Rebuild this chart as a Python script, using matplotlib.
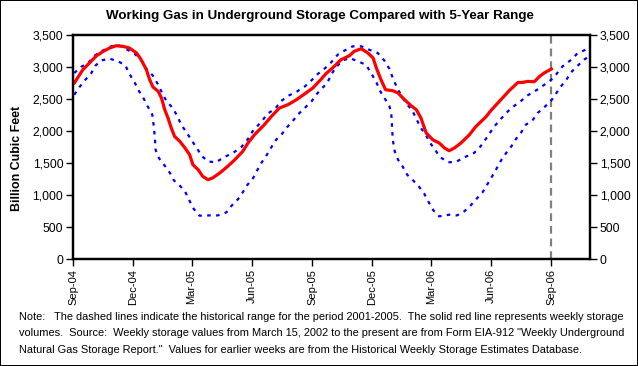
import matplotlib
matplotlib.use("Agg")
import matplotlib.pyplot as plt
from matplotlib.ticker import FuncFormatter
import pandas as pd

plt.rcParams['font.family'] = ['Liberation Sans', 'DejaVu Sans']

# ---------------- data (days after 2004-09-01, Bcf) ----------------
start_date = "2004-09-01"

red_days = [2, 15, 25, 36, 46, 56, 66, 76, 86, 97, 104, 112, 117, 122, 130, 135, 140, 145, 150, 155,
            163, 171, 178, 183, 191, 198, 206, 213, 224, 236, 247, 259, 267, 277, 292, 302, 315, 328,
            341, 354, 366, 379, 386, 396, 409, 422, 429, 440, 450, 458, 463, 470, 477, 488, 496, 506,
            516, 524, 531, 539, 549, 559, 567, 574, 582, 592, 605, 615, 630, 638, 653, 666, 679, 686,
            694, 704, 712, 719, 730]
red_vals = [2750, 2958, 3062, 3177, 3244, 3297, 3333, 3323, 3297, 3219, 3114, 2958, 2802, 2688, 2619,
            2516, 2333, 2203, 2047, 1916, 1838, 1734, 1630, 1473, 1395, 1291, 1239, 1266, 1344, 1447,
            1552, 1681, 1812, 1942, 2098, 2219, 2359, 2411, 2489, 2583, 2672, 2813, 2895, 2984, 3114,
            3177, 3244, 3286, 3219, 3141, 2984, 2802, 2645, 2630, 2594, 2489, 2395, 2333, 2203, 1969,
            1864, 1812, 1734, 1692, 1734, 1812, 1942, 2072, 2219, 2322, 2489, 2634, 2759, 2759, 2775,
            2770, 2853, 2906, 2969]

up_days = [2, 12, 23, 33, 43, 58, 71, 81, 94, 104, 112, 122, 130, 136, 142, 152, 159, 165, 173, 181,
           189, 196, 206, 218, 231, 244, 257, 267, 274, 281, 290, 297, 309, 317, 329, 342, 354, 365,
           374, 385, 394, 404, 414, 427, 440, 452, 465, 475, 483, 488, 494, 501, 509, 518, 524, 531,
           539, 545, 552, 559, 572, 585, 597, 612, 622, 630, 643, 661, 671, 683, 693, 706, 718, 730,
           737, 747, 759, 769, 782, 790]
up_vals = [2906, 3000, 3062, 3177, 3244, 3323, 3333, 3281, 3208, 3103, 2969, 2864, 2723, 2594, 2478,
           2359, 2239, 2098, 1984, 1853, 1734, 1614, 1525, 1510, 1594, 1656, 1750, 1875, 1994, 2072,
           2177, 2270, 2353, 2463, 2552, 2619, 2697, 2802, 2895, 2984, 3072, 3192, 3255, 3323, 3323,
           3270, 3219, 3103, 2969, 2828, 2688, 2552, 2427, 2317, 2188, 2047, 1927, 1812, 1719, 1603,
           1510, 1520, 1588, 1656, 1760, 1875, 2072, 2281, 2375, 2463, 2552, 2630, 2713, 2802, 2880,
           3009, 3103, 3203, 3270, 3300]

lo_days = [2, 10, 18, 28, 34, 43, 56, 69, 80, 86, 94, 101, 108, 114, 121, 123, 125, 126, 131, 140,
           148, 154, 163, 171, 177, 184, 193, 208, 221, 234, 241, 252, 259, 266, 275, 281, 288, 295,
           302, 310, 318, 327, 337, 343, 352, 364, 371, 379, 388, 394, 401, 412, 422, 435, 447, 455,
           463, 469, 476, 483, 486, 487, 488, 491, 496, 503, 510, 519, 527, 536, 543, 550, 559, 574,
           586, 597, 607, 617, 625, 632, 639, 646, 653, 661, 669, 676, 684, 691, 702, 709, 719, 730,
           736, 744, 753, 760, 769, 780, 788]
lo_vals = [2567, 2688, 2791, 2906, 3020, 3103, 3130, 3088, 3025, 2895, 2759, 2619, 2505, 2385, 2255,
           2098, 1890, 1708, 1578, 1458, 1344, 1228, 1145, 1056, 927, 786, 677, 681, 681, 728, 822,
           937, 1041, 1156, 1266, 1384, 1510, 1614, 1734, 1864, 1942, 2062, 2177, 2255, 2344, 2463,
           2567, 2656, 2750, 2880, 2995, 3103, 3141, 3088, 3036, 2906, 2759, 2619, 2505, 2385, 2239,
           2047, 1864, 1681, 1552, 1447, 1317, 1228, 1145, 1020, 885, 760, 666, 692, 681, 744, 838,
           953, 1041, 1161, 1281, 1406, 1536, 1656, 1760, 1875, 1978, 2098, 2177, 2281, 2369, 2478,
           2567, 2688, 2802, 2916, 3009, 3114, 3170]

x_tick_dates = ["2004-09-01", "2004-12-01", "2005-03-01", "2005-06-01", "2005-09-01",
                "2005-12-01", "2006-03-01", "2006-06-01", "2006-09-01"]
x_tick_labels = ["Sep-04", "Dec-04", "Mar-05", "Jun-05", "Sep-05", "Dec-05", "Mar-06", "Jun-06", "Sep-06"]
y_ticks = [0, 500, 1000, 1500, 2000, 2500, 3000, 3500]
current_week = "2006-09-01"
x_end = "2006-10-30"

title = "Working Gas in Underground Storage Compared with 5-Year Range"
ylabel = "Billion Cubic Feet"
note_lines = [
    "Note:   The dashed lines indicate the historical range for the period 2001-2005.  The solid red line represents weekly storage",
    "volumes.  Source:  Weekly storage values from March 15, 2002 to the present are from Form EIA-912 \"Weekly Underground",
    "Natural Gas Storage Report.\"  Values for earlier weeks are from the Historical Weekly Storage Estimates Database.",
]

# ---------------- figure ----------------
t0 = pd.Timestamp(start_date)
def to_dates(days):
    return t0 + pd.to_timedelta(days, unit="D")

W, H = 638, 366
fig = plt.figure(figsize=(W / 100, H / 100), dpi=100, facecolor="white",
                 edgecolor="black", linewidth=1.2)
ax = fig.add_axes([73 / W, 1 - 259 / H, (590 - 73) / W, (259 - 35) / H])

blue_style = dict(color="#0000FF", linewidth=1.6, linestyle=(0, (1.6, 2.4)),
                  dash_capstyle="butt")
ax.plot(to_dates(up_days), up_vals, **blue_style, zorder=3)
ax.plot(to_dates(lo_days), lo_vals, **blue_style, zorder=3)
ax.plot(to_dates(red_days), red_vals, color="#FF0000", linewidth=2.3, zorder=4,
        solid_joinstyle="round")
ax.axvline(pd.Timestamp(current_week), color="#808080", linewidth=1.6,
           linestyle=(0, (3.5, 2.2)), zorder=2)

ax.set_xlim(t0, pd.Timestamp(x_end))
ax.set_ylim(0, 3500)
ax.set_yticks(y_ticks)
fmt = FuncFormatter(lambda v, p: f"{v:,.0f}")
ax.yaxis.set_major_formatter(fmt)
ax.set_xticks(pd.to_datetime(x_tick_dates))
ax.set_xticklabels(x_tick_labels, rotation=90, fontsize=8.0)
ax.tick_params(axis="y", labelsize=8.8, length=5, width=1, direction="out", pad=2)
ax.tick_params(axis="x", length=5, width=1, direction="out", pad=2)
for s in ax.spines.values():
    s.set_linewidth(1.6)
    s.set_color("black")

ax2 = ax.twinx()
ax2.set_ylim(0, 3500)
ax2.set_yticks(y_ticks)
ax2.yaxis.set_major_formatter(fmt)
ax2.tick_params(axis="y", labelsize=8.8, length=5, width=1, direction="out", pad=2)
for s in ax2.spines.values():
    s.set_linewidth(1.6)

fig.text(17 / W, 1 - 158 / H, ylabel, rotation=90, fontsize=8.9, fontweight="bold",
         ha="center", va="center")

fig.text(320 / W, 1 - 16 / H, title, fontsize=9.6, fontweight="bold", ha="center", va="center")

for i, line in enumerate(note_lines):
    fig.text(19 / W, 1 - (317 + 16.5 * i) / H, line, fontsize=7.95, ha="left", va="center")

fig.savefig("out.png", dpi=100, facecolor=fig.get_facecolor(), edgecolor=fig.get_edgecolor())
